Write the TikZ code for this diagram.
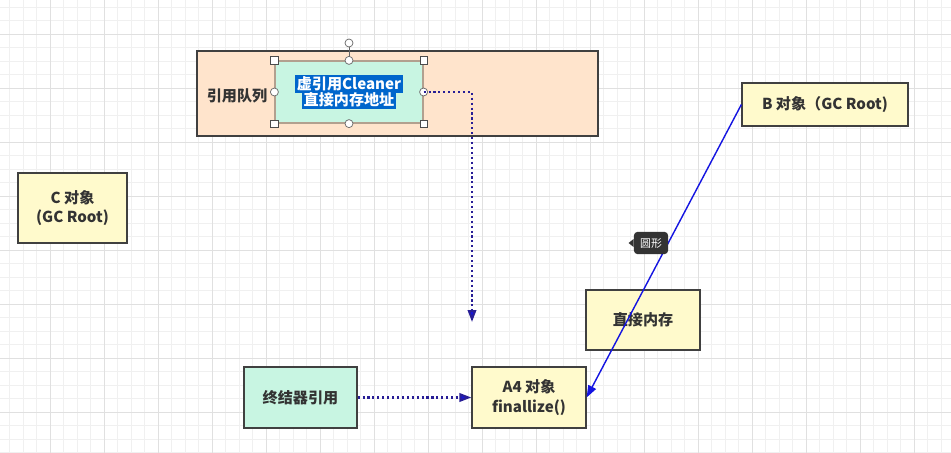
\documentclass[tikz,border=0pt]{standalone}
\usepackage{fontspec}
\setmainfont{Noto Sans CJK SC}
\usepackage{tikz}
\usetikzlibrary{arrows.meta,positioning}
\usepackage{xcolor}
\definecolor{boxyel}{RGB}{255,250,204}
\definecolor{boxmint}{RGB}{200,245,226}
\definecolor{boxpeach}{RGB}{255,228,204}
\definecolor{selblue}{RGB}{0,102,204}
\definecolor{linkblue}{RGB}{20,20,225}
\definecolor{dotnavy}{RGB}{40,30,150}
\definecolor{txtgray}{RGB}{51,51,51}
\newcommand{\selhl}[1]{{\setlength{\fboxsep}{1pt}\colorbox{selblue}{\color{white}#1}}}

\begin{document}
\begin{tikzpicture}[
  x=0.02cm, y=-0.02cm,
  b/.style={draw=black!75, line width=0.7pt, align=center, inner sep=2pt,
    font=\fontsize{8.6}{11}\selectfont\bfseries, text=txtgray, fill=boxyel},
  a/.style={-{Triangle[length=2.4mm, width=1.7mm]}, draw=linkblue, line width=0.8pt},
  d/.style={-{Triangle[length=2.4mm, width=1.7mm]}, draw=dotnavy, line width=1.2pt,
    dash pattern=on 1.2pt off 1.6pt, arrows={[fill=linkblue]}},
  hsq/.style={draw=black!70, fill=white, minimum size=1.5mm, inner sep=0pt},
  hci/.style={circle, draw=black!60, fill=white, minimum size=1.6mm, inner sep=0pt},
  gmin/.style={draw=black!6, line width=0.4pt},
  gmaj/.style={draw=black!12, line width=0.5pt}
]
\useasboundingbox (0,0) rectangle (951,453);
\fill[white] (0,0) rectangle (951,453);
% grid
\foreach \i in {0,...,70} \draw[gmin] ({9.5+13.5*\i},0) -- ({9.5+13.5*\i},453);
\foreach \j in {0,...,33} \draw[gmin] (0,{7+13.5*\j}) -- (951,{7+13.5*\j});
\foreach \i in {0,...,17} \draw[gmaj] ({50+54*\i},0) -- ({50+54*\i},453);
\foreach \j in {0,...,8} \draw[gmaj] (0,{34+54*\j}) -- (951,{34+54*\j});

% reference queue
\node[b, fill=boxpeach, minimum width=8.02cm, minimum height=1.7cm] (queue) at (397.5,93.5) {};
\node[font=\fontsize{8.6}{11}\selectfont\bfseries, text=txtgray] (qlabel) at (237,96) {引用队列};
\node[b, fill=boxmint, draw=boxpeach!70!black, minimum width=2.96cm, minimum height=1.24cm] (cln) at (349,92)
  {\selhl{虚引用Cleaner}\\[-1.6pt]\selhl{直接内存地址}};
% selection handles
\draw[black!60, line width=0.5pt] (cln.north) -- (349,43);
\node[hci] (rot) at (349,43) {};
\foreach \c in {north west, north east, south west, south east} \node[hsq] at (cln.\c) {};
\foreach \c in {north, south, west, east} \node[hci] at (cln.\c) {};

\node[b, minimum width=2.18cm, minimum height=1.4cm] (objc) at (72.5,208) {C 对象\\(GC Root)};
\node[b, minimum width=3.32cm, minimum height=0.86cm] (objb) at (825,104.5) {B 对象（GC Root)};
\node[b, minimum width=2.28cm, minimum height=1.2cm] (mem) at (643,320) {直接内存};
\node[b, fill=boxmint, minimum width=2.26cm, minimum height=1.22cm] (fin) at (300.5,397.5) {终结器引用};
\node[b, minimum width=2.28cm, minimum height=1.22cm] (a4) at (529,397.5) {A4 对象\\finallize()};

\coordinate (qend) at (472,322);
\draw[d] (cln.east) -| (qend);
\draw[d] (fin) -- (a4);
\draw[a] (objb.west) -- (a4.east);

% tooltip
\node[fill=black!80, rounded corners=2pt, text=white, inner sep=3.5pt,
  font=\fontsize{6.2}{7}\selectfont] (tip) at (651,243) {圆形};
\fill[black!80] (tip.west) ++(0,-4) -- ++(-5,4) -- ++(5,4) -- cycle;
\end{tikzpicture}
\end{document}
